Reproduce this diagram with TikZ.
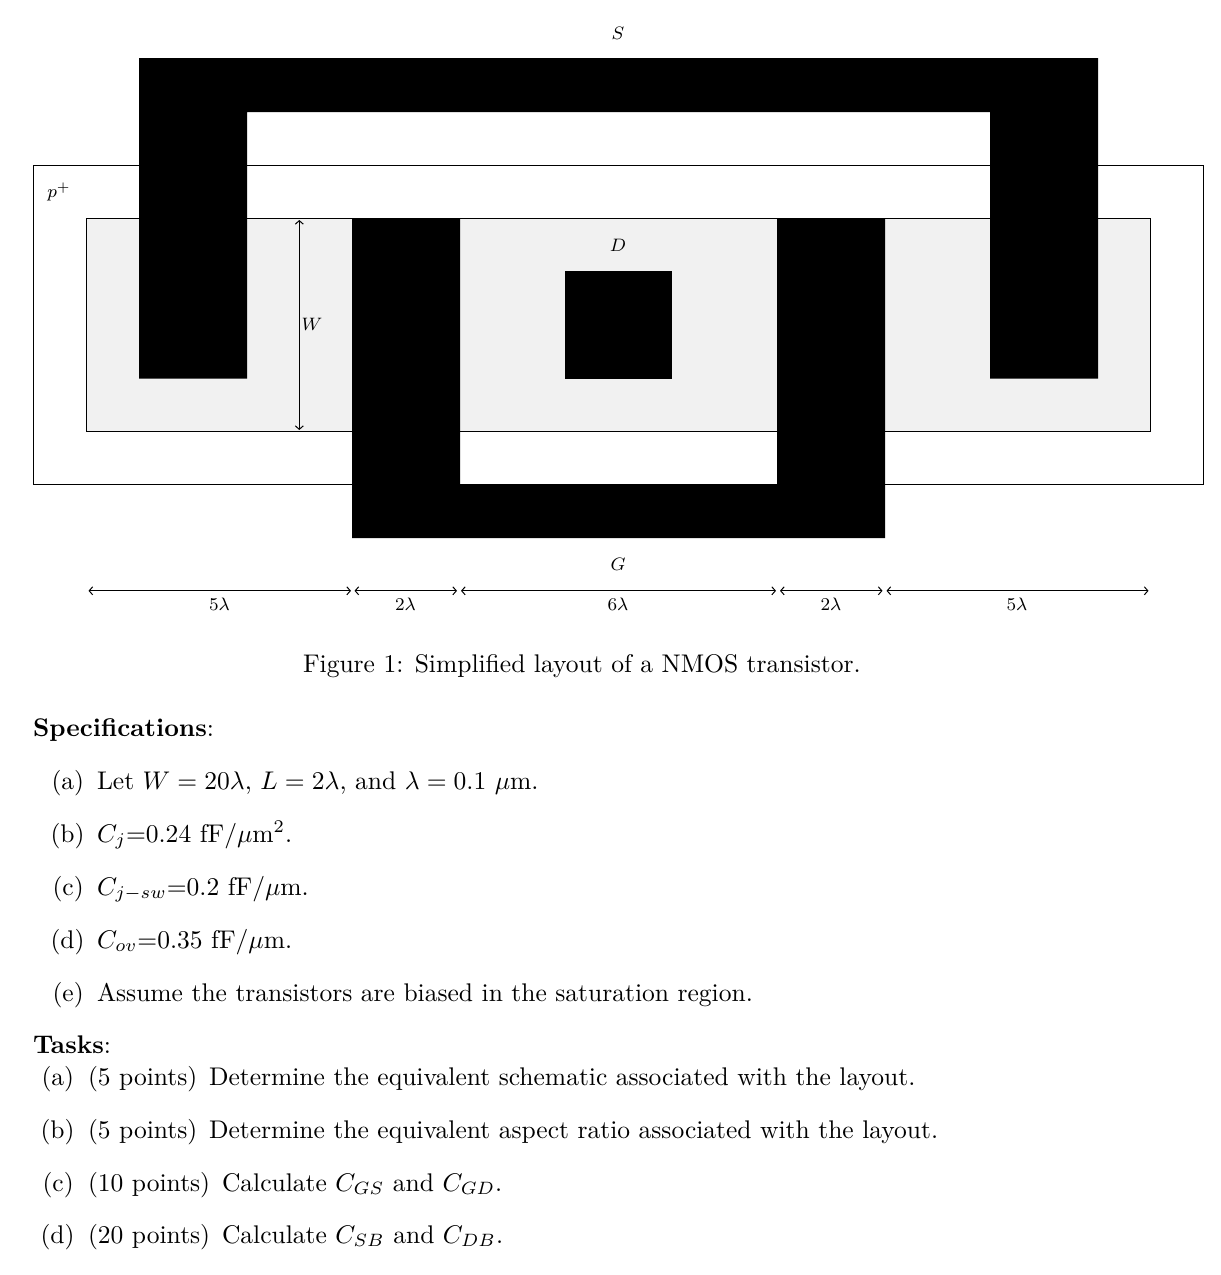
\documentclass[tikz,border=0pt]{standalone}
\usetikzlibrary{arrows.meta}
\definecolor{lightfill}{HTML}{F1F1F1}
\tikzset{
  blk/.style={fill=black,draw=none},
  outl/.style={draw=black,line width=1.4pt},
  dim/.style={draw=black,line width=1pt,{Straight Barb[length=3.5pt,width=8pt]}-{Straight Barb[length=3.5pt,width=8pt]}},
  lbl/.style={font=\footnotesize,inner sep=0pt,scale=2.25,text=black},
  txt/.style={font=\normalsize,anchor=base west,inner sep=0pt,scale=2.553,text=black},
}
\begin{document}
\begin{tikzpicture}[x=1pt,y=-1pt]
\useasboundingbox[fill=white] (0,0) rectangle (1221,1275);
\draw[outl] (33.5,165.5) rectangle (1203.5,484.5);
\draw[outl,fill=lightfill] (86.5,218.5) rectangle (1150.5,431.5);
\fill[blk] (139,58) -- (1098,58) -- (1098,378.5) -- (990,378.5) -- (990,112) -- (247,112) -- (247,378.5) -- (139,378.5) -- cycle;
\fill[blk] (352,218) -- (460,218) -- (460,484) -- (777,484) -- (777,218) -- (885,218) -- (885,538) -- (352,538) -- cycle;
\fill[blk] (564.5,271) rectangle (672,378.5);
\node[lbl] (s) at (618,33) {$S$};
\node[lbl] (d) at (618,245) {$D$};
\node[lbl] (g) at (618,564) {$G$};
\node[lbl] (p) at (59,192) {$p^+$};
\node[lbl] (w) at (312,324.5) {$W$};
\coordinate (wt) at (299.3,220);
\coordinate (wb) at (299.3,430);
\draw[dim] (wt) -- (wb);
\coordinate (a0) at (88.5,590.8); \coordinate (a1) at (351,590.8);
\coordinate (b0) at (354.5,590.8); \coordinate (b1) at (457,590.8);
\coordinate (c0) at (461,590.8); \coordinate (c1) at (776,590.8);
\coordinate (d0) at (780,590.8); \coordinate (d1) at (882.5,590.8);
\coordinate (e0) at (886.5,590.8); \coordinate (e1) at (1148.5,590.8);
\draw[dim] (a0) -- (a1);
\draw[dim] (b0) -- (b1);
\draw[dim] (c0) -- (c1);
\draw[dim] (d0) -- (d1);
\draw[dim] (e0) -- (e1);
\node[lbl] (la) at (219.5,604.5) {$5\lambda$};
\node[lbl] (lb) at (405.5,604.5) {$2\lambda$};
\node[lbl] (lc) at (618,604.5) {$6\lambda$};
\node[lbl] (ld) at (831,604.5) {$2\lambda$};
\node[lbl] (le) at (1017,604.5) {$5\lambda$};
\node[txt] (cap) at (302.5,672) {Figure 1: Simplified layout of a NMOS transistor.};
\node[txt] (spec) at (32.5,736) {\textbf{Specifications}:};
\node[txt] (sa0) at (51,789) {(a)};
\node[txt] (sa) at (96.5,789) {Let $W=20\lambda$, $L=2\lambda$, and $\lambda=0.1$ $\mu$m.};
\node[txt] (sb0) at (50,842) {(b)};
\node[txt] (sb) at (96.5,842) {$C_j$=0.24 fF/$\mu$m$^2$.};
\node[txt] (sc0) at (52,895) {(c)};
\node[txt] (sc) at (96.5,895) {$C_{j-sw}$=0.2 fF/$\mu$m.};
\node[txt] (sd0) at (50,948) {(d)};
\node[txt] (sd) at (96.5,948) {$C_{ov}$=0.35 fF/$\mu$m.};
\node[txt] (se0) at (52,1001) {(e)};
\node[txt] (se) at (96.5,1001) {Assume the transistors are biased in the saturation region.};
\node[txt] (tasks) at (32.5,1053) {\textbf{Tasks}:};
\node[txt] (ta0) at (41,1085) {(a)};
\node[txt] (ta) at (87.5,1085) {(5 points)};
\node[txt] (ta1) at (208.5,1085) {Determine the equivalent schematic associated with the layout.};
\node[txt] (tb0) at (40,1138) {(b)};
\node[txt] (tb) at (87.5,1138) {(5 points)};
\node[txt] (tb1) at (208.5,1138) {Determine the equivalent aspect ratio associated with the layout.};
\node[txt] (tc0) at (42,1191) {(c)};
\node[txt] (tc) at (87.5,1191) {(10 points)};
\node[txt] (tc1) at (221.5,1191) {Calculate $C_{GS}$ and $C_{GD}$.};
\node[txt] (td0) at (40,1243) {(d)};
\node[txt] (td) at (87.5,1243) {(20 points)};
\node[txt] (td1) at (221.5,1243) {Calculate $C_{SB}$ and $C_{DB}$.};
\end{tikzpicture}
\end{document}
